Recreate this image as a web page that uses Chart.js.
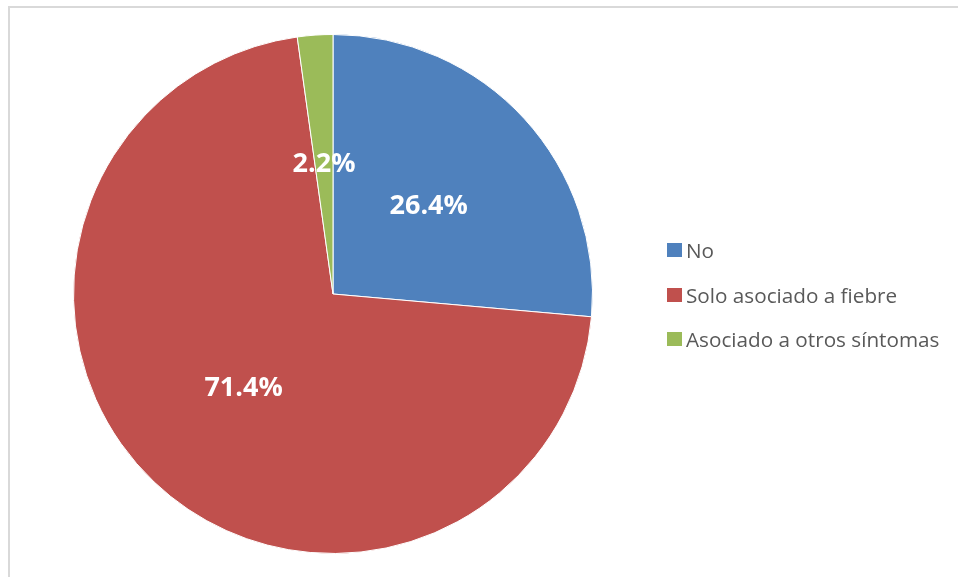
<!DOCTYPE html>
<html>
<head>
<meta charset="utf-8">
<script src="https://cdn.jsdelivr.net/npm/chart.js@4/dist/chart.umd.min.js"></script>
<style>
  html, body { margin: 0; padding: 0; background: #fff; }
  #wrap { position: relative; width: 958px; height: 577px; overflow: hidden; }
  #frame { position: absolute; left: 8px; top: 6px; width: 1000px; height: 700px;
           border-top: 2px solid #d9d9d9; border-left: 2px solid #d9d9d9; }
  #pie { position: absolute; left: 0; top: 0; }
  #legend { position: absolute; left: 667px; top: 0; font-family: "Open Sans", sans-serif;
            font-size: 20.7px; color: #595959; }
  .item { position: absolute; left: 0; white-space: nowrap; display: flex; align-items: center; height: 28px; }
  .box { width: 15px; height: 14px; margin-right: 4px; }
</style>
</head>
<body>
<div id="wrap">
  <div id="frame"></div>
  <canvas id="pie" width="958" height="577"></canvas>
  <div id="legend"></div>
</div>
<script>
// Categories and their shares (percent)
const categories = ['No', 'Solo asociado a fiebre', 'Asociado a otros síntomas'];
const shares = [26.4, 71.4, 2.2];
const sliceColors = ['#4F81BD', '#C0504D', '#9BBB59'];
const legendTops = [236, 281, 325];

// Percent labels drawn at the middle of each slice
const sliceLabels = {
  id: 'sliceLabels',
  afterDatasetsDraw(chart) {
    const ctx = chart.ctx;
    const meta = chart.getDatasetMeta(0);
    const values = chart.data.datasets[0].data;
    ctx.save();
    ctx.fillStyle = '#ffffff';
    ctx.font = 'bold 27px "Open Sans", sans-serif';
    ctx.textAlign = 'center';
    ctx.textBaseline = 'middle';
    meta.data.forEach((arc, i) => {
      const p = arc.tooltipPosition();
      ctx.fillText(values[i].toFixed(1) + '%', p.x, p.y);
    });
    ctx.restore();
  }
};

const chart = new Chart(document.getElementById('pie'), {
  type: 'pie',
  data: {
    labels: categories,
    datasets: [{
      data: shares,
      backgroundColor: sliceColors,
      borderColor: '#ffffff',
      borderWidth: 1
    }]
  },
  options: {
    responsive: false,
    animation: false,
    layout: { padding: { left: 73, right: 365, top: 34, bottom: 23 } },
    plugins: {
      legend: { display: false },
      tooltip: { enabled: false }
    }
  },
  plugins: [sliceLabels]
});

// Legend built from the chart's own legend items
const legendEl = document.getElementById('legend');
chart.options.plugins.legend.labels.generateLabels(chart).forEach((item, i) => {
  const row = document.createElement('div');
  row.className = 'item';
  row.style.top = legendTops[i] + 'px';
  const box = document.createElement('span');
  box.className = 'box';
  box.style.background = item.fillStyle;
  row.appendChild(box);
  row.appendChild(document.createTextNode(item.text));
  legendEl.appendChild(row);
});
</script>
</body>
</html>
